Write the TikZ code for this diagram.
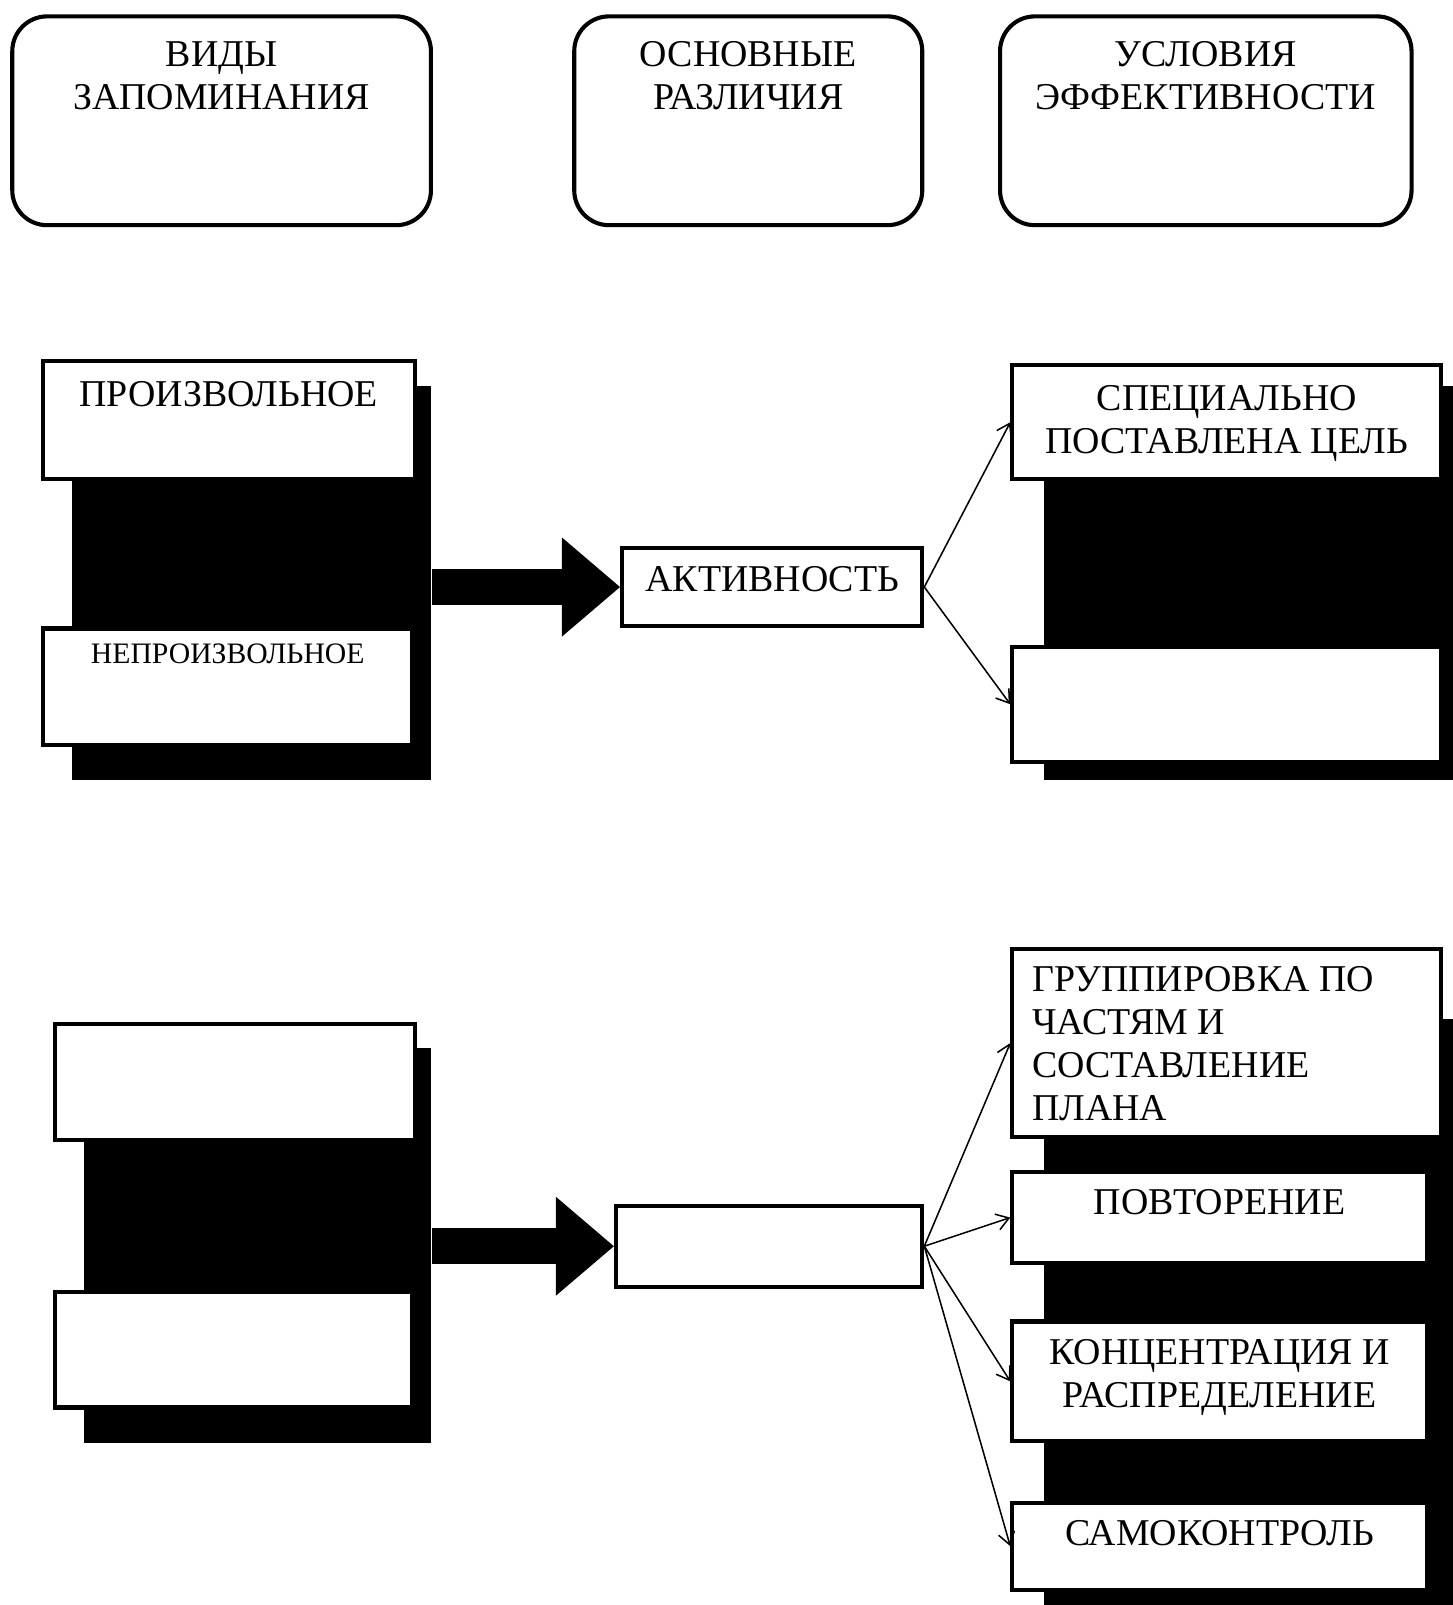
\documentclass[tikz,border=0pt]{standalone}
\usepackage{fontspec}
\setmainfont{Liberation Serif}
\usetikzlibrary{arrows.meta,positioning}

\begin{document}
\begin{tikzpicture}[x=0.5pt,y=-0.5pt,
  hbox/.style={draw,line width=2pt,rounded corners=17pt,anchor=north west,inner sep=0pt},
  wbox/.style={draw,line width=2pt,fill=white,anchor=north west,inner sep=0pt},
  shade/.style={fill=black,anchor=north west,inner sep=0pt},
  txt/.style={inner sep=0pt,align=center,font=\fontsize{18.5}{21}\selectfont},
  thin/.style={-{Straight Barb[length=6pt,width=8pt]},line width=0.75pt},
  fat/.style={line width=17.5pt,-{Triangle[length=28.5pt,width=46.5pt]}}]
  \useasboundingbox (0,0) rectangle (1419,1568);

  \node[hbox,minimum width=204.5pt,minimum height=102pt] at (10,14) (vidy) {};
  \node[hbox,minimum width=170pt,minimum height=102pt] at (559,14) (razl) {};
  \node[hbox,minimum width=201pt,minimum height=102pt] at (975,14) (usl) {};
  \node[txt,below=13pt of vidy.north] (vidyt) {ВИДЫ\\ЗАПОМИНАНИЯ};
  \node[txt,below=13pt of razl.north] (razlt) {ОСНОВНЫЕ\\РАЗЛИЧИЯ};
  \node[txt,below=13pt of usl.north] (uslt) {УСЛОВИЯ\\ЭФФЕКТИВНОСТИ};

  \node[shade,minimum width=175.5pt,minimum height=192.5pt] at (70,377) (shl1) {};
  \node[shade,minimum width=199.5pt,minimum height=192.5pt] at (1020,377) (shr1) {};
  \node[wbox,minimum width=181.5pt,minimum height=57.5pt] at (40,351) (proizv) {};
  \node[wbox,minimum width=180.5pt,minimum height=57pt] at (40,612) (neproizv) {};
  \node[wbox,minimum width=146.5pt,minimum height=38.5pt] at (606,533) (akt) {};
  \node[wbox,minimum width=209.5pt,minimum height=55.5pt] at (987,355) (cel) {};
  \node[wbox,minimum width=209.5pt,minimum height=56pt] at (987,630) (r2) {};
  \node[txt,below=10.5pt of proizv.north] (proizvt) {ПРОИЗВОЛЬНОЕ};
  \node[txt,font=\fontsize{14.5}{17}\selectfont,below=8.5pt of neproizv.north] (neproizvt) {НЕПРОИЗВОЛЬНОЕ};
  \node[txt,below=10pt of akt.north] (aktt) {АКТИВНОСТЬ};
  \node[txt,below=10.5pt of cel.north] (celt) {СПЕЦИАЛЬНО\\ПОСТАВЛЕНА ЦЕЛЬ};
  \draw[fat] (shl1.east |- akt.west) -- (akt.west);
  \draw[thin] (akt.east) -- (cel.west);
  \draw[thin] (akt.east) -- (r2.west);

  \node[shade,minimum width=169.5pt,minimum height=193pt] at (82,1023) (shl2) {};
  \node[shade,minimum width=199.5pt,minimum height=286.5pt] at (1020,995) (shr2) {};
  \node[wbox,minimum width=175.5pt,minimum height=57pt] at (52,998) (l3) {};
  \node[wbox,minimum width=174.5pt,minimum height=56.5pt] at (52,1260) (l4) {};
  \node[wbox,minimum width=149.5pt,minimum height=39.5pt] at (600,1176) (mid) {};
  \node[wbox,minimum width=209.5pt,minimum height=92pt] at (987,925) (grupp) {};
  \node[wbox,minimum width=202.5pt,minimum height=44.5pt] at (987,1143) (povt) {};
  \node[wbox,minimum width=202.5pt,minimum height=58.5pt] at (987,1289) (konc) {};
  \node[wbox,minimum width=202.5pt,minimum height=42.5pt] at (987,1466) (samo) {};
  \node[txt,align=left,below right=9.5pt and 10.5pt of grupp.north west] (gruppt) {ГРУППИРОВКА ПО\\ЧАСТЯМ И\\СОСТАВЛЕНИЕ\\ПЛАНА};
  \node[txt,below=9.5pt of povt.north] (povtt) {ПОВТОРЕНИЕ};
  \node[txt,below=9.5pt of konc.north] (konct) {КОНЦЕНТРАЦИЯ И\\РАСПРЕДЕЛЕНИЕ};
  \node[txt,below=9.5pt of samo.north] (samot) {САМОКОНТРОЛЬ};
  \draw[fat] (shl2.east |- mid.west) -- (mid.west);
  \draw[thin] (mid.east) -- (grupp.west);
  \draw[thin] (mid.east) -- (povt.west);
  \draw[thin] (mid.east) -- (konc.west);
  \draw[thin] (mid.east) -- (samo.west);
\end{tikzpicture}
\end{document}
